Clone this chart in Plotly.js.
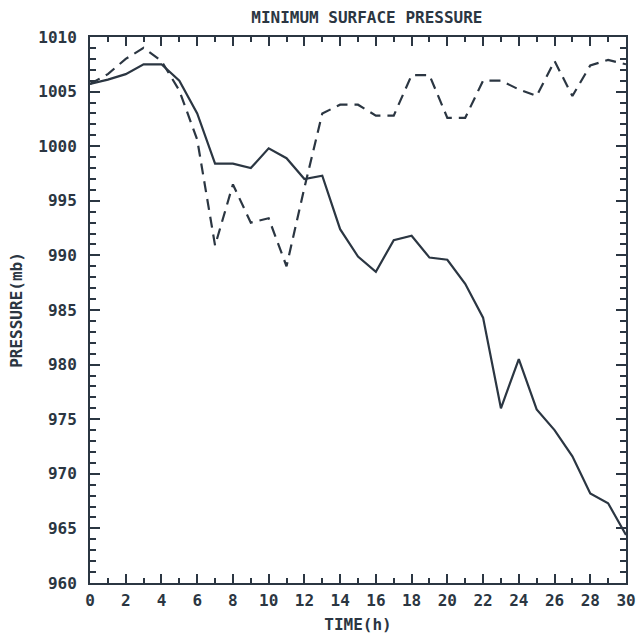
<!DOCTYPE html>
<html>
<head>
<meta charset="utf-8">
<script src="https://cdn.plot.ly/plotly-3.0.1.min.js"></script>
<style>html,body{margin:0;padding:0;background:#fff;overflow:hidden;}</style>
</head>
<body>
<div id="chart" style="width:638px;height:635px;"></div>
<script>
// Time (hours)
const hours = [0,1,2,3,4,5,6,7,8,9,10,11,12,13,14,15,16,17,18,19,20,21,22,23,24,25,26,27,28,29,30];
// Solid line: minimum surface pressure (mb)
const pressureSolid = [1005.7,1006.1,1006.6,1007.5,1007.5,1006.0,1003.0,998.4,998.4,998.0,999.8,998.9,997.0,997.3,992.4,989.9,988.5,991.4,991.8,989.8,989.6,987.4,984.3,976.0,980.5,975.9,974.0,971.6,968.2,967.3,964.4];
// Dashed line: minimum surface pressure (mb)
const pressureDashed = [1005.7,1006.6,1008.0,1009.0,1007.8,1005.1,1000.6,990.9,996.5,993.0,993.4,989.0,996.2,1003.0,1003.8,1003.8,1002.8,1002.8,1006.5,1006.5,1002.6,1002.6,1006.0,1006.0,1005.2,1004.6,1007.8,1004.6,1007.4,1007.9,1007.5];
const xTicks = [0,2,4,6,8,10,12,14,16,18,20,22,24,26,28,30];
const yTicks = [960,965,970,975,980,985,990,995,1000,1005,1010];

const ink = '#2b3642';
const fam = 'DejaVu Sans Mono, monospace';
const lblFont = {family: fam, size: 16, color: ink, weight: 'bold'};

const data = [
  {x: hours, y: pressureSolid, mode: 'lines', line: {color: ink, width: 2.2}, hoverinfo: 'skip', cliponaxis: true},
  {x: hours, y: pressureDashed, mode: 'lines', line: {color: ink, width: 2.2, dash: '11px,7px'}, hoverinfo: 'skip', cliponaxis: true}
];

const layout = {
  width: 638, height: 635,
  margin: {l: 90, r: 12, t: 37, b: 52},
  paper_bgcolor: '#ffffff', plot_bgcolor: '#ffffff',
  showlegend: false,
  font: lblFont,
  title: {text: 'MINIMUM SURFACE PRESSURE', font: {family: fam, size: 16, color: ink, weight: 'bold'}, x: 0.575, xanchor: 'center', y: 0.972, yanchor: 'middle'},
  xaxis: {
    range: [0, 30], tickvals: xTicks, ticktext: xTicks.map(String),
    ticks: 'inside', ticklen: 9, tickwidth: 2, tickcolor: ink,
    minor: {dtick: 1, ticks: 'inside', ticklen: 5, tickwidth: 2, tickcolor: ink},
    showline: true, linecolor: ink, linewidth: 2, mirror: 'ticks',
    showgrid: false, zeroline: false, fixedrange: true, automargin: false,
    tickfont: lblFont, ticklabelstandoff: 2,
    title: {text: 'TIME(h)', font: lblFont, standoff: 10}
  },
  yaxis: {
    range: [960, 1010], tickvals: yTicks, ticktext: yTicks.map(String),
    ticks: 'inside', ticklen: 10, tickwidth: 2, tickcolor: ink,
    minor: {dtick: 1, ticks: 'inside', ticklen: 6, tickwidth: 2, tickcolor: ink},
    showline: true, linecolor: ink, linewidth: 2, mirror: 'ticks',
    showgrid: false, zeroline: false, fixedrange: true, automargin: false,
    tickfont: lblFont, ticklabelstandoff: 8,
    title: {text: 'PRESSURE(mb)', font: lblFont, standoff: 12}
  }
};

Plotly.newPlot('chart', data, layout, {staticPlot: true, displayModeBar: false});
</script>
</body>
</html>
